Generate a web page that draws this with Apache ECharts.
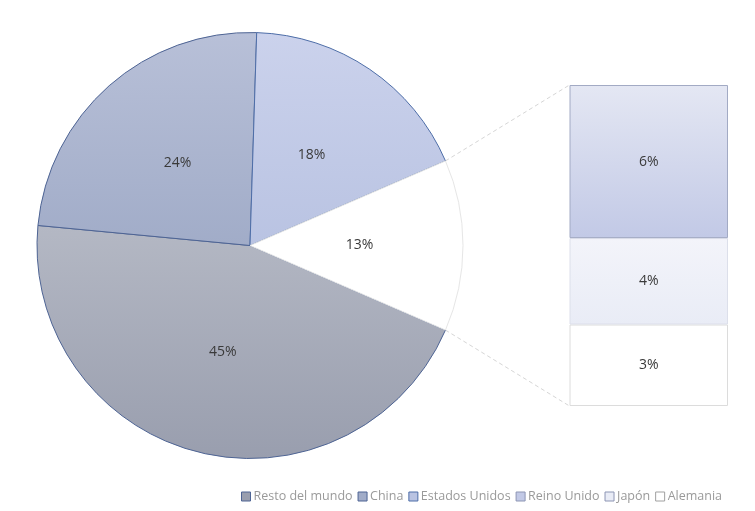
<!DOCTYPE html>
<html>
<head>
<meta charset="utf-8">
<script src="https://cdn.jsdelivr.net/npm/echarts@6/dist/echarts.min.js"></script>
<style>
html,body{margin:0;padding:0;background:#fff;}
#c{width:755px;height:511px;}
</style>
</head>
<body>
<div id="c"></div>
<script>
// ---- data ----
const pieNames = ['Resto del mundo', 'China', 'Estados Unidos'];
const pieValues = [45, 24, 18];
const barNames = ['Reino Unido', 'Japón', 'Alemania'];
const barValues = [6.2, 3.5, 3.3];
const otherName = 'Otros';

// ---- styles / layout ----
const pieColors = [
  {top:'#b4b8c4', bottom:'#999eae', border:'#4e6494'},
  {top:'#b8c0d8', bottom:'#a1acc8', border:'#4e6494'},
  {top:'#cbd2ec', bottom:'#b9c3e2', border:'#4e6ea8'}
];
const barColors = [
  {top:'#e4e7f3', bottom:'#c2c9e6', border:'#a2aac4'},
  {top:'#f3f4fa', bottom:'#e9ecf6', border:'#dcdfea'},
  {top:'#ffffff', bottom:'#ffffff', border:'#dcdcdc'}
];
const PIE = {cx:250, cy:245.5, r:213};
const BAR = {left:569.5, top:85, width:158.5, height:321};
const FONT = '"Open Sans", "Noto Sans", sans-serif';

function vgrad(c){ return new echarts.graphic.LinearGradient(0,0,0,1,[{offset:0,color:c.top},{offset:1,color:c.bottom}]); }

const otherValue = barValues.reduce((a,b)=>a+b,0);
const pieTotal = pieValues.reduce((a,b)=>a+b,0) + otherValue;
const otherSweep = otherValue / pieTotal * 360;
const startAngle = -otherSweep/2;

const pieData = pieNames.map((n,i)=>({
  name:n, value:pieValues[i],
  itemStyle:{color:vgrad(pieColors[i]), borderColor:pieColors[i].border, borderWidth:1}
}));
pieData.push({name:otherName, value:otherValue,
  itemStyle:{color:'#ffffff', borderColor:'#e6e6e6', borderWidth:1}});

const labelStyle = {show:true, position:'inside', color:'#3a3a3a', fontFamily:FONT, fontSize:14,
  formatter:p=>Math.round(p.value)+'%'};

const series = [{
  type:'pie', name:'pie',
  center:[PIE.cx, PIE.cy], radius:[0, PIE.r],
  startAngle:startAngle, clockwise:true,
  avoidLabelOverlap:false, silent:true, animation:false,
  label:labelStyle,
  labelLine:{show:false},
  data:pieData
}];
// stacked bar: bottom first
for (let k = barNames.length-1; k >= 0; k--) {
  series.push({
    type:'bar', name:barNames[k], stack:'o', barWidth:'100%',
    data:[barValues[k]], animation:false, silent:true,
    itemStyle:{color:vgrad(barColors[k]), borderColor:barColors[k].border, borderWidth:1},
    label:labelStyle
  });
}

const legendData = pieNames.map((n,i)=>({name:n, itemStyle:{color:pieColors[i].bottom, borderColor:pieColors[i].border, borderWidth:1}}))
  .concat(barNames.map((n,i)=>({name:n, itemStyle:{color:barColors[i].bottom, borderColor:barColors[i].border==='#dcdcdc'?'#a0a0a0':'#8d96b4', borderWidth:1}})));

const chart = echarts.init(document.getElementById('c'), null, {renderer:'canvas'});
chart.setOption({
  backgroundColor:'#ffffff',
  animation:false,
  legend:{
    data:legendData, left:241, top:490, icon:'rect',
    itemWidth:9, itemHeight:9, itemGap:5, padding:0,
    textStyle:{color:'#9a9a9a', fontFamily:FONT, fontSize:12.5, padding:[0,0,0,-2]},
    selectedMode:false
  },
  grid:{left:BAR.left, top:BAR.top, width:BAR.width, height:BAR.height},
  xAxis:{type:'category', data:[otherName], show:false},
  yAxis:{type:'value', min:0, max:otherValue, show:false},
  series:series
});

// connector lines from pie "other" slice edges to the bar's corners
const a = otherSweep/2 * Math.PI/180;
const p1 = [PIE.cx + PIE.r*Math.cos(a), PIE.cy - PIE.r*Math.sin(a)];
const p2 = [PIE.cx + PIE.r*Math.cos(a), PIE.cy + PIE.r*Math.sin(a)];
const yTop = chart.convertToPixel({yAxisIndex:0}, otherValue);
const yBot = chart.convertToPixel({yAxisIndex:0}, 0);
const xLeft = BAR.left;
const lineStyle = {stroke:'#d6d6d6', lineWidth:1, lineDash:[4,3]};
chart.setOption({
  graphic:[
    {type:'line', shape:{x1:p1[0], y1:p1[1], x2:xLeft, y2:yTop}, style:lineStyle, silent:true, z:-1},
    {type:'line', shape:{x1:p2[0], y1:p2[1], x2:xLeft, y2:yBot}, style:lineStyle, silent:true, z:-1}
  ]
});
</script>
</body>
</html>
